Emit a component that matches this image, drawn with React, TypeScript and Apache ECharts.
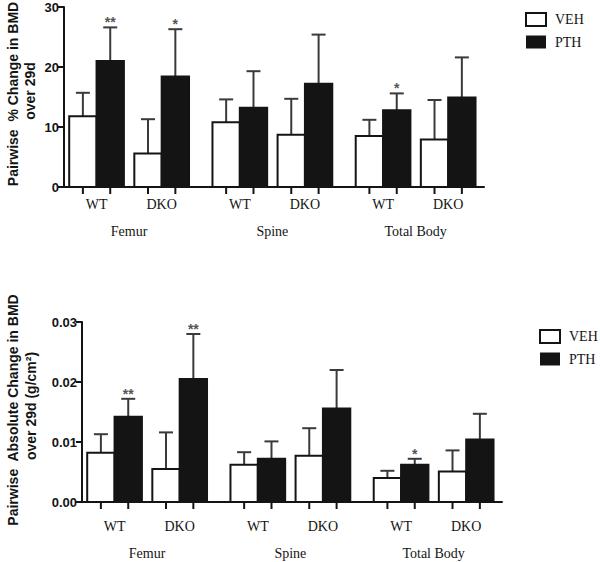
import React, { useEffect, useRef } from 'react';
import * as echarts from 'echarts';

// ---- data ----
const tissues = ['Femur', 'Spine', 'Total Body'];
const genotypes = ['WT', 'DKO', 'WT', 'DKO', 'WT', 'DKO'];
const groupPos = [0, 1, 2.2, 3.2, 4.4, 5.4];
const tissuePos = [0.5, 2.7, 4.9];
const legendNames = ['VEH', 'PTH'];

// % change (top panel)
const pctVeh = [11.8, 5.6, 10.8, 8.7, 8.5, 7.9];
const pctVehSd = [3.9, 5.7, 3.8, 6.0, 2.7, 6.6];
const pctPth = [21.0, 18.4, 13.2, 17.2, 12.8, 14.9];
const pctPthSd = [5.6, 7.9, 6.1, 8.2, 2.8, 6.7];
const pctPthSig = ['**', '*', '', '', '*', ''];
const pctTicks = [0, 10, 20, 30];

// absolute change (bottom panel)
const absVeh = [0.0082, 0.0055, 0.0062, 0.0077, 0.004, 0.0051];
const absVehSd = [0.0031, 0.0061, 0.0021, 0.0046, 0.0012, 0.0035];
const absPth = [0.0142, 0.0205, 0.0072, 0.0156, 0.0062, 0.0104];
const absPthSd = [0.003, 0.0075, 0.0029, 0.0064, 0.001, 0.0043];
const absPthSig = ['**', '**', '', '', '*', ''];
const absTicks = [0, 0.01, 0.02, 0.03];

const INK = '#141414';
const ERR = '#3a3a3a';
const SERIF = '"Liberation Serif", "Times New Roman", serif';
const SANS = '"Liberation Sans", Arial, sans-serif';
const BAR_W = 0.42;

function barRender(side: number, fill: string, sig: string[]) {
  return (params: any, api: any) => {
    const x = api.value(0);
    const y = api.value(1);
    const sd = api.value(2);
    const base = api.coord([x, 0]);
    const top = api.coord([x, y]);
    const et = api.coord([x, y + sd]);
    const w = api.size([BAR_W, 0])[0];
    const left = side < 0 ? base[0] - w : base[0];
    const cx = left + w / 2;
    const children: any[] = [
      { type: 'line', shape: { x1: cx, y1: top[1], x2: cx, y2: et[1] }, style: { stroke: ERR, lineWidth: 2 } },
      { type: 'line', shape: { x1: cx - 7, y1: et[1], x2: cx + 7, y2: et[1] }, style: { stroke: ERR, lineWidth: 2 } },
      { type: 'rect', shape: { x: left, y: top[1], width: w, height: base[1] - top[1] }, style: { fill, stroke: INK, lineWidth: 2 } },
      { type: 'line', shape: { x1: cx, y1: base[1], x2: cx, y2: base[1] + 7 }, style: { stroke: INK, lineWidth: 2 } },
    ];
    const s = sig[params.dataIndex];
    if (s) {
      children.push({
        type: 'text',
        style: {
          text: s, x: cx, y: et[1] - 5,
          align: 'center', verticalAlign: 'middle', textAlign: 'center', textVerticalAlign: 'middle',
          fill: '#555', font: `bold 14px ${SANS}`,
        },
      });
    }
    return { type: 'group', children };
  };
}

function labelRender(texts: string[], offset: number) {
  return (params: any, api: any) => {
    const p = api.coord([api.value(0), 0]);
    return {
      type: 'text',
      style: {
        text: texts[params.dataIndex], x: p[0], y: p[1] + offset,
        align: 'center', verticalAlign: 'middle', textAlign: 'center', textVerticalAlign: 'middle',
        fill: INK, font: `14px ${SERIF}`,
      },
    };
  };
}

function panelSeries(idx: number, veh: number[], vehSd: number[], pth: number[], pthSd: number[], sig: string[], gOff: number, tOff: number) {
  const common = { type: 'custom', xAxisIndex: idx, yAxisIndex: idx, encode: { x: 0, y: 1 }, clip: false };
  return [
    { ...common, name: 'VEH', itemStyle: { color: '#ffffff', borderColor: INK, borderWidth: 2 }, renderItem: barRender(-1, '#ffffff', []), data: groupPos.map((x, i) => [x, veh[i], vehSd[i]]) },
    { ...common, name: 'PTH', itemStyle: { color: INK }, renderItem: barRender(1, INK, sig), data: groupPos.map((x, i) => [x, pth[i], pthSd[i]]) },
    { ...common, name: 'geno' + idx, renderItem: labelRender(genotypes, gOff), data: groupPos.map((x) => [x, 0]), silent: true },
    { ...common, name: 'tissue' + idx, renderItem: labelRender(tissues, tOff), data: tissuePos.map((x) => [x, 0]), silent: true },
  ];
}

function xAxis(idx: number) {
  return {
    type: 'value', gridIndex: idx, min: -0.5, max: 5.95,
    axisLine: { show: true, onZero: false, lineStyle: { color: INK, width: 2 } },
    axisTick: { show: false }, axisLabel: { show: false }, splitLine: { show: false },
  };
}

function yAxis(idx: number, max: number, interval: number, digits: number) {
  return {
    type: 'value', gridIndex: idx, min: 0, max, interval,
    axisLine: { show: true, onZero: false, lineStyle: { color: INK, width: 2 } },
    axisTick: { show: true, length: 6, lineStyle: { color: INK, width: 2 } },
    axisLabel: { color: INK, fontFamily: SANS, fontWeight: 'bold', fontSize: 13, margin: 5, formatter: (v: number) => v.toFixed(digits) },
    splitLine: { show: false },
  };
}

function legend(left: number, top: number) {
  return {
    orient: 'vertical', left, top, itemWidth: 20, itemHeight: 13, itemGap: 8, padding: 0,
    selectedMode: false,
    textStyle: { fontFamily: SERIF, fontSize: 14, color: INK, padding: [0, 0, 0, 4] },
    data: [
      { name: legendNames[0], icon: 'rect', itemStyle: { color: '#ffffff', borderColor: INK, borderWidth: 2 } },
      { name: legendNames[1], icon: 'rect', itemStyle: { color: INK, borderWidth: 0 } },
    ],
  };
}

function vTitle(text: string, x: number, y: number) {
  return {
    type: 'text', x, y, rotation: Math.PI / 2,
    style: { text, align: 'center', verticalAlign: 'middle', textAlign: 'center', textVerticalAlign: 'middle', fill: INK, font: `bold 14px ${SANS}` },
  };
}

export default function App() {
  const ref = useRef<HTMLDivElement>(null);
  useEffect(() => {
    if (!ref.current) return;
    const chart = echarts.init(ref.current, undefined, { renderer: 'svg' });
    chart.setOption({
      animation: false,
      backgroundColor: '#ffffff',
      grid: [
        { left: 64, top: 7, width: 420, height: 180 },
        { left: 82, top: 322, width: 420, height: 180 },
      ],
      xAxis: [xAxis(0), xAxis(1)],
      yAxis: [
        yAxis(0, pctTicks[pctTicks.length - 1], pctTicks[1] - pctTicks[0], 0),
        yAxis(1, absTicks[absTicks.length - 1], absTicks[1] - absTicks[0], 2),
      ],
      legend: [legend(525, 12), legend(539, 329)],
      graphic: [
        vTitle('Pairwise  % Change in BMD', 13, 94),
        vTitle('over 29d', 30, 91),
        vTitle('Pairwise  Absolute Change in BMD', 13, 410),
        vTitle('over 29d (g/cm²)', 31, 406),
      ],
      series: [
        ...panelSeries(0, pctVeh, pctVehSd, pctPth, pctPthSd, pctPthSig, 17, 44),
        ...panelSeries(1, absVeh, absVehSd, absPth, absPthSd, absPthSig, 24, 51),
      ],
    });
    return () => chart.dispose();
  }, []);
  return <div ref={ref} style={{ position: 'absolute', left: 0, top: 0, width: 600, height: 562 }} />;
}
